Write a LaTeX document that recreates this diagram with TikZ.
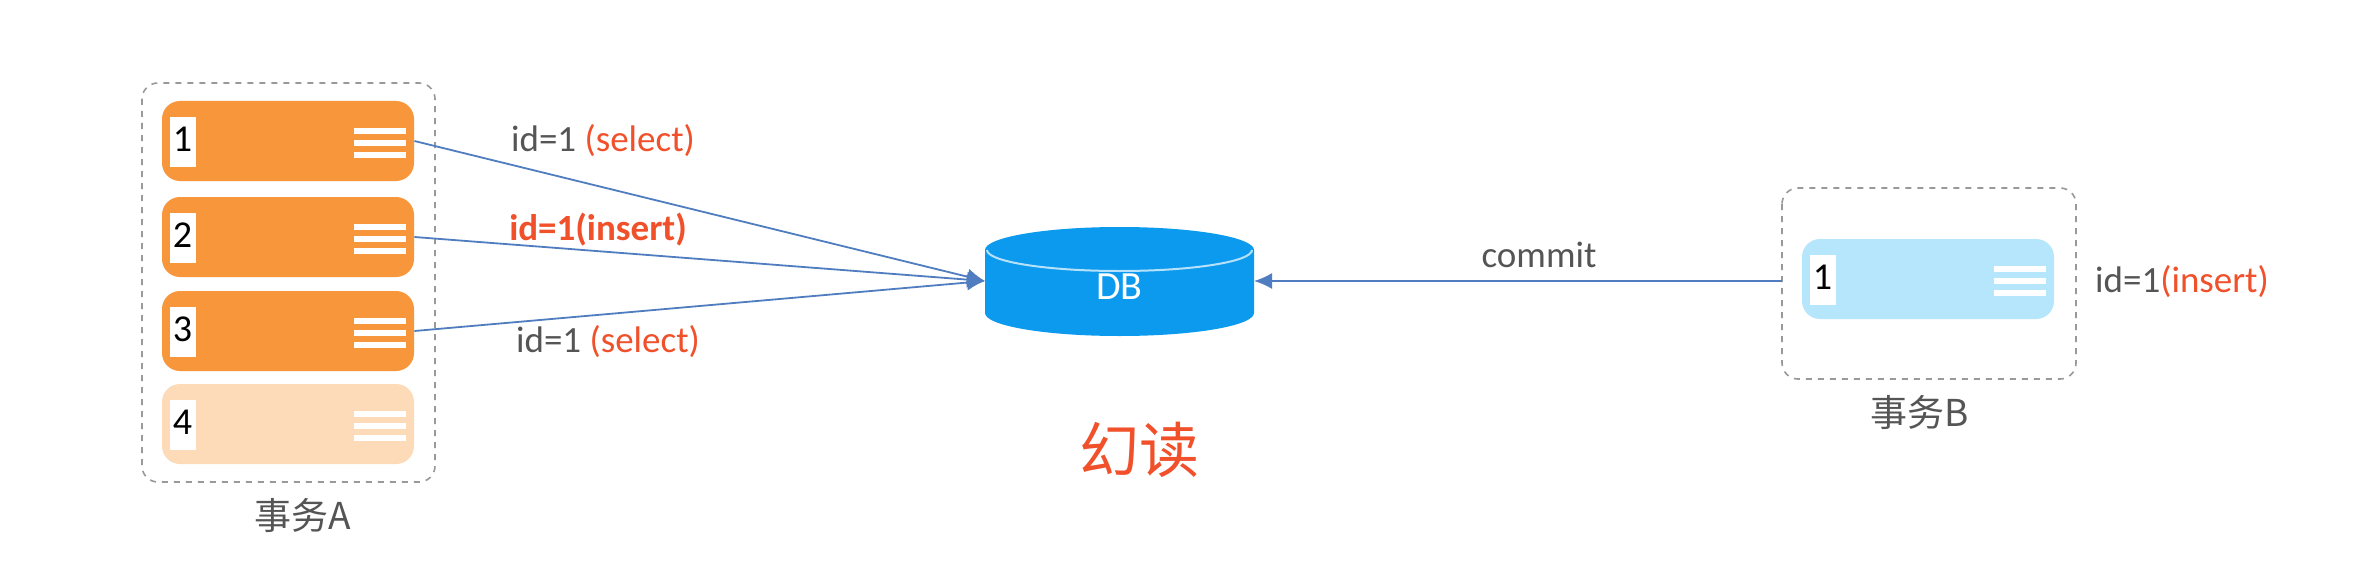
\documentclass[tikz,border=0pt]{standalone}
\usepackage{fontspec}
\setmainfont{Carlito}
\newfontfamily\cjk{Noto Sans CJK SC}
\definecolor{org}{HTML}{F7963A}
\definecolor{lorg}{HTML}{FDDAB8}
\definecolor{lblue}{HTML}{B5E6FB}
\definecolor{dbc}{HTML}{0C9AEE}
\definecolor{lnc}{HTML}{4F7DBF}
\definecolor{redt}{HTML}{F0502A}
\definecolor{gtxt}{HTML}{555555}
\tikzset{
 card/.style={rounded corners=9pt,minimum width=126pt,minimum height=40pt,inner sep=0pt},
 grp/.style={draw=gray!80,dashed,rounded corners=8pt,line width=0.8pt},
 conn/.style={draw=lnc,line width=0.9pt},
 arr/.style={conn,-{Latex[length=9pt,width=8pt]}},
 lbl/.style={font=\fontsize{18.5}{21}\selectfont,text=gtxt},
}
\usetikzlibrary{arrows.meta}
\newcommand{\cardicon}[2]{%
 \fill[white] ([xshift=4pt,yshift=-13pt]#1.west) rectangle ([xshift=17pt,yshift=12pt]#1.west);
 \node[font=\fontsize{19}{21}\selectfont,anchor=center] at ([xshift=10.5pt,yshift=1pt]#1.west) {#2};
 \foreach \d in {-6,0,6}{\draw[white,line width=2.6pt] ([xshift=-30pt,yshift=\d pt-1pt]#1.east) -- ([xshift=-4pt,yshift=\d pt-1pt]#1.east);}
}
\begin{document}
\begin{tikzpicture}[x=0.5pt,y=-0.5pt]
\useasboundingbox[fill=white] (0,0) rectangle (2364,583);
% group A
\draw[grp] (142,83) rectangle (435,482);
\node[card,fill=org] (r1) at (288,141) {};
\node[card,fill=org] (r2) at (288,237) {};
\node[card,fill=org] (r3) at (288,331) {};
\node[card,fill=lorg] (r4) at (288,424) {};
\cardicon{r1}{1}\cardicon{r2}{2}\cardicon{r3}{3}\cardicon{r4}{4}
\node[font=\cjk\fontsize{18.5}{21}\selectfont,text=gtxt] (ga) at (303,515) {事务A};
% DB
\fill[dbc] (985,250) -- (985,313) arc[start angle=180,end angle=0,x radius=134.5,y radius=23] -- (1254,250) -- cycle;
\fill[dbc] (1119.5,250) ellipse [x radius=134.5,y radius=23];
\draw[white!70!dbc,line width=1pt] (987,250) arc[start angle=180,end angle=0,x radius=132.5,y radius=21];
\node[font=\fontsize{20}{22}\selectfont,text=white,minimum width=134pt,minimum height=50pt] (db) at (1119.5,287) {DB};
% group B
\draw[grp] (1782,188) rectangle (2076,379);
\node[card,fill=lblue] (b1) at (1928,279) {};
\cardicon{b1}{1}
\node[font=\cjk\fontsize{18.5}{21}\selectfont,text=gtxt] (gb) at (1920,412) {事务B};
% connectors
\coordinate (dbw) at (985,281);
\coordinate (dbe) at (1254,281);
\draw[arr] (r1.east) -- (dbw);
\draw[arr] (r2.east) -- (dbw);
\draw[arr] (r3.east) -- (dbw);
\coordinate (gbw) at (1782,281);
\draw[arr] (gbw) -- (dbe);
% labels
\node[lbl] (l1) at (603,141) {id=1 \textcolor{redt}{(select)}};
\node[lbl,text=redt,font=\bfseries\fontsize{18.5}{21}\selectfont] (l2) at (598,230) {id=1(insert)};
\node[lbl] (l3) at (608,342) {id=1 \textcolor{redt}{(select)}};
\node[lbl] (lc) at (1539,255) {commit};
\node[lbl] (lb) at (2182,282) {id=1\textcolor{redt}{(insert)}};
\node[font=\cjk\fontsize{30}{34}\selectfont,text=redt] (hd) at (1139,450) {幻读};
\end{tikzpicture}
\end{document}
